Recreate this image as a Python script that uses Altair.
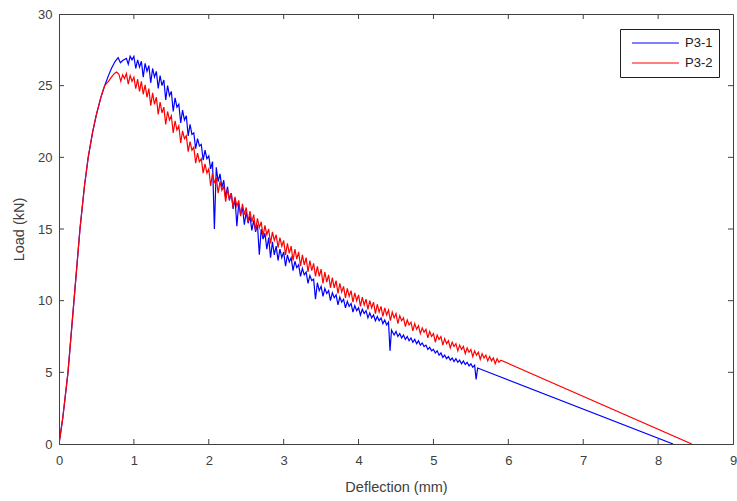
import altair as alt
import pandas as pd

# ---------------- data ----------------
blue_rise_x = [0, 0.05, 0.12, 0.20, 0.28, 0.34, 0.39, 0.45, 0.50, 0.56, 0.61, 0.66, 0.70, 0.75, 0.79, 0.82, 0.85]
blue_rise_y = [0, 1.8, 5.0, 10.0, 15.0, 18.0, 20.0, 21.8, 23.0, 24.2, 25.0, 25.7, 26.2, 26.7, 26.95, 26.6, 26.75]

blue_top_x = [0.90, 0.95, 1.00, 1.05, 1.10, 1.15, 1.20, 1.25, 1.30, 1.35, 1.40, 1.45, 1.50, 1.55, 1.60, 1.65,
              1.70, 1.75, 1.80, 1.85, 1.90, 1.95, 2.00, 2.05, 2.10, 2.15, 2.20, 2.25, 2.30, 2.35, 2.40, 2.45,
              2.50, 2.55, 2.60, 2.65, 2.70, 2.75, 2.80, 2.85, 2.90, 2.95, 3.00, 3.05, 3.10, 3.15, 3.20, 3.25,
              3.30, 3.35, 3.40, 3.45, 3.50, 3.55, 3.60, 3.65, 3.70, 3.75, 3.80, 3.85, 3.90, 3.95, 4.00, 4.05,
              4.10, 4.15, 4.20, 4.25, 4.30, 4.35, 4.40,
              4.50, 4.55, 4.60, 4.65, 4.70, 4.75, 4.80, 4.85, 4.90, 4.95, 5.00, 5.05, 5.10, 5.15, 5.20, 5.25,
              5.30, 5.35, 5.40, 5.45, 5.50, 5.55]
blue_top_y = [26.9, 27.05, 27.05, 26.8, 26.7, 26.55, 26.4, 26.2, 26.0, 25.7, 25.4, 25.0, 24.6, 24.15, 23.7, 23.3,
              22.9, 22.3, 21.7, 21.3, 20.9, 20.5, 20.1, 19.7, 19.3, 18.85, 18.4, 17.95, 17.5, 17.15, 16.8, 16.5,
              16.2, 15.9, 15.6, 15.3, 15.0, 14.7, 14.4, 14.1, 13.8, 13.6, 13.4, 13.2, 13.0, 12.75, 12.5, 12.25,
              12.0, 11.75, 11.5, 11.25, 11.0, 10.85, 10.7, 10.55, 10.4, 10.25, 10.1, 9.95, 9.8, 9.65, 9.5, 9.4,
              9.3, 9.15, 9.0, 8.9, 8.8, 8.65, 8.5,
              7.85, 7.7, 7.6, 7.5, 7.4, 7.3, 7.2, 7.05, 6.9, 6.75, 6.6, 6.5, 6.35, 6.2, 6.1, 6.0,
              5.95, 5.85, 5.8, 5.7, 5.6, 5.5]

blue_dip_x = [0.925, 0.975, 1.025, 1.075, 1.125, 1.175, 1.225, 1.275, 1.325, 1.375, 1.425, 1.475, 1.525, 1.575,
              1.625, 1.675, 1.725, 1.775, 1.825, 1.875, 1.925, 1.975, 2.025, 2.075, 2.125, 2.175, 2.225, 2.275,
              2.325, 2.375, 2.425, 2.475, 2.525, 2.575, 2.625, 2.675, 2.725, 2.775, 2.825, 2.875, 2.925, 2.975,
              3.025, 3.075, 3.125, 3.175, 3.225, 3.275, 3.325, 3.375, 3.425, 3.475, 3.525, 3.575, 3.625, 3.675,
              3.725, 3.775, 3.825, 3.875, 3.925, 3.975, 4.025, 4.075, 4.125, 4.175, 4.225, 4.275, 4.325, 4.375,
              4.475, 4.525, 4.575, 4.625, 4.675, 4.725, 4.775, 4.825, 4.875, 4.925, 4.975, 5.025, 5.075, 5.125,
              5.175, 5.225, 5.275, 5.325, 5.375, 5.425, 5.475, 5.525]
blue_dip_y = [26.5, 26.8, 26.2, 26.3, 25.6, 26.0, 25.2, 25.6, 24.8, 25.0, 24.0, 24.3, 23.2, 23.5,
              22.4, 22.6, 21.5, 21.6, 20.6, 20.8, 19.8, 19.9, 19.2, 15.0, 18.3, 17.9, 17.2, 17.0,
              16.4, 15.2, 16.0, 15.3, 15.4, 14.9, 14.8, 13.2, 14.3, 13.6, 13.0, 13.2, 12.8, 13.0,
              12.4, 12.7, 12.1, 12.3, 11.7, 11.8, 11.2, 11.4, 10.1, 10.7, 10.3, 10.5, 10.0, 10.2,
              9.7, 9.9, 9.5, 9.6, 9.2, 9.3, 9.0, 9.1, 8.8, 8.8, 8.6, 8.6, 8.4, 8.3,
              7.6, 7.5, 7.4, 7.3, 7.2, 7.1, 7.0, 6.9, 6.8, 6.6, 6.5, 6.35, 6.2, 6.05,
              5.95, 5.85, 5.75, 5.7, 5.6, 5.55, 5.45, 5.35]

blue_event_x = [4.42, 4.44, 5.57, 5.59, 8.20]
blue_event_y = [6.5, 7.95, 4.5, 5.3, 0.0]

red_rise_x = [0, 0.05, 0.12, 0.20, 0.28, 0.34, 0.39, 0.45, 0.50, 0.56, 0.61, 0.66, 0.70, 0.74, 0.77]
red_rise_y = [0, 1.8, 5.0, 10.0, 15.0, 18.0, 20.0, 21.8, 23.0, 24.2, 25.0, 25.3, 25.6, 25.85, 25.95]

red_top_x = [0.80, 0.85, 0.90, 0.95, 1.00, 1.05, 1.10, 1.15, 1.20, 1.25, 1.30, 1.35, 1.40, 1.45, 1.50, 1.55,
             1.60, 1.65, 1.70, 1.75, 1.80, 1.85, 1.90, 1.95, 2.00, 2.05, 2.10, 2.15, 2.20, 2.25, 2.30, 2.35,
             2.40, 2.45, 2.50, 2.55, 2.60, 2.65, 2.70, 2.75, 2.80, 2.85, 2.90, 2.95, 3.00, 3.05, 3.10, 3.15,
             3.20, 3.25, 3.30, 3.35, 3.40, 3.45, 3.50, 3.55, 3.60, 3.65, 3.70, 3.75, 3.80, 3.85, 3.90, 3.95,
             4.00, 4.05, 4.10, 4.15, 4.20, 4.25, 4.30, 4.35, 4.40, 4.45, 4.50, 4.55, 4.60, 4.65, 4.70, 4.75,
             4.80, 4.85, 4.90, 4.95, 5.00, 5.05, 5.10, 5.15, 5.20, 5.25, 5.30, 5.35, 5.40, 5.45, 5.50, 5.55,
             5.60, 5.65, 5.70, 5.75, 5.80, 5.85, 5.90]
red_top_y = [25.8, 25.75, 25.85, 25.7, 25.6, 25.45, 25.3, 25.05, 24.8, 24.5, 24.2, 23.85, 23.5, 23.2, 22.9, 22.55,
             22.2, 21.85, 21.5, 21.1, 20.7, 20.3, 19.9, 19.55, 19.2, 18.9, 18.6, 18.3, 18.0, 17.75, 17.5, 17.25,
             17.0, 16.75, 16.5, 16.25, 16.0, 15.75, 15.5, 15.25, 15.0, 14.8, 14.6, 14.4, 14.2, 14.0, 13.8, 13.6,
             13.4, 13.2, 13.0, 12.8, 12.6, 12.4, 12.2, 12.0, 11.8, 11.6, 11.4, 11.2, 11.0, 10.85, 10.7, 10.55,
             10.4, 10.25, 10.1, 10.0, 9.9, 9.75, 9.6, 9.5, 9.35, 9.2, 9.1, 8.95, 8.8, 8.65, 8.5, 8.4,
             8.25, 8.1, 8.0, 7.85, 7.7, 7.6, 7.5, 7.35, 7.2, 7.1, 7.0, 6.9, 6.8, 6.7, 6.6, 6.5,
             6.4, 6.3, 6.2, 6.1, 6.0, 5.95, 5.85]

red_dip_x = [0.825, 0.875, 0.925, 0.975, 1.025, 1.075, 1.125, 1.175, 1.225, 1.275, 1.325, 1.375, 1.425, 1.475,
             1.525, 1.575, 1.625, 1.675, 1.725, 1.775, 1.825, 1.875, 1.925, 1.975, 2.025, 2.075, 2.125, 2.175,
             2.225, 2.275, 2.325, 2.375, 2.425, 2.475, 2.525, 2.575, 2.625, 2.675, 2.725, 2.775, 2.825, 2.875,
             2.925, 2.975, 3.025, 3.075, 3.125, 3.175, 3.225, 3.275, 3.325, 3.375, 3.425, 3.475, 3.525, 3.575,
             3.625, 3.675, 3.725, 3.775, 3.825, 3.875, 3.925, 3.975, 4.025, 4.075, 4.125, 4.175, 4.225, 4.275,
             4.325, 4.375, 4.425, 4.475, 4.525, 4.575, 4.625, 4.675, 4.725, 4.775, 4.825, 4.875, 4.925, 4.975,
             5.025, 5.075, 5.125, 5.175, 5.225, 5.275, 5.325, 5.375, 5.425, 5.475, 5.525, 5.575, 5.625, 5.675,
             5.725, 5.775, 5.825, 5.875]
red_dip_y = [25.3, 25.5, 25.1, 25.3, 24.8, 24.6, 24.4, 24.2, 23.6, 23.7, 23.0, 23.1, 22.3, 22.6,
             21.7, 21.9, 21.0, 21.3, 20.4, 20.5, 19.6, 19.7, 18.9, 18.9, 18.0, 18.2, 17.5, 17.7,
             16.9, 17.1, 16.5, 16.6, 15.9, 16.0, 15.5, 15.5, 14.9, 15.1, 14.5, 14.6, 14.0, 14.2,
             13.7, 13.8, 13.2, 13.3, 12.8, 12.9, 12.4, 12.5, 12.0, 12.1, 11.7, 11.7, 11.2, 11.3,
             10.9, 10.9, 10.5, 10.6, 10.2, 10.3, 9.9, 10.0, 9.6, 9.7, 9.4, 9.5, 9.1, 9.2,
             8.9, 9.0, 8.6, 8.8, 8.4, 8.6, 8.2, 8.3, 7.9, 8.0, 7.7, 7.8, 7.4, 7.5,
             7.1, 7.3, 6.9, 7.0, 6.7, 6.8, 6.5, 6.6, 6.3, 6.4, 6.1, 6.2, 5.9, 6.0,
             5.8, 5.8, 5.6, 5.7]

red_event_x = [8.45]
red_event_y = [0.0]

x_ticks = [0, 1, 2, 3, 4, 5, 6, 7, 8, 9]
y_ticks = [0, 5, 10, 15, 20, 25, 30]
series_names = ["P3-1", "P3-2"]
series_colors = ["#0000ff", "#ff0000"]

# ---------------- build tables ----------------
blue = pd.DataFrame({
    "x": blue_rise_x + blue_top_x + blue_dip_x + blue_event_x,
    "y": blue_rise_y + blue_top_y + blue_dip_y + blue_event_y,
}).sort_values("x").reset_index(drop=True)
blue["series"] = series_names[0]
blue["i"] = range(len(blue))

red = pd.DataFrame({
    "x": red_rise_x + red_top_x + red_dip_x + red_event_x,
    "y": red_rise_y + red_top_y + red_dip_y + red_event_y,
}).sort_values("x").reset_index(drop=True)
red["series"] = series_names[1]
red["i"] = range(len(red))

W, H = 674, 430
FONT = "Liberation Sans"
AX = "#404040"

xscale = alt.Scale(domain=[0, 9], nice=False, zero=False)
yscale = alt.Scale(domain=[0, 30], nice=False, zero=False)
cscale = alt.Scale(domain=series_names, range=series_colors)

legend = alt.Legend(
    title=None, orient="none", legendX=561, legendY=15,
    symbolType="stroke", symbolSize=2200, symbolStrokeWidth=1.2, clipHeight=16,
    labelFont=FONT, labelFontSize=13, labelColor="#202020",
    strokeColor="#202020", fillColor="white", padding=6, rowPadding=4,
    labelOffset=5, symbolOffset=5,
)

x_axis = alt.Axis(values=x_ticks, ticks=False, grid=False, labelFont=FONT, labelFontSize=13,
                  labelColor=AX, labelPadding=10, title="Deflection (mm)", titleFont=FONT,
                  titleFontSize=14.5, titleFontWeight="normal", titleColor=AX, titlePadding=13,
                  domainColor=AX, format="d", labelFlush=False)
y_axis = alt.Axis(values=y_ticks, ticks=False, grid=False, labelFont=FONT, labelFontSize=13,
                  labelColor=AX, labelPadding=7, title="Load (kN)", titleFont=FONT,
                  titleFontSize=14.5, titleFontWeight="normal", titleColor=AX, titlePadding=11,
                  domainColor=AX, format="d", labelFlush=False)

blue_line = alt.Chart(blue).mark_line(strokeWidth=1.2, clip=True).encode(
    x=alt.X("x:Q", scale=xscale, axis=x_axis),
    y=alt.Y("y:Q", scale=yscale, axis=y_axis),
    color=alt.Color("series:N", scale=cscale, legend=legend),
    order="i:Q",
)
red_line = alt.Chart(red).mark_line(strokeWidth=1.2, clip=True).encode(
    x=alt.X("x:Q", scale=xscale),
    y=alt.Y("y:Q", scale=yscale),
    color=alt.Color("series:N", scale=cscale, legend=legend),
    order="i:Q",
)

xt = pd.DataFrame({"t": x_ticks[1:-1]})
yt = pd.DataFrame({"t": y_ticks[1:-1]})
tick_style = dict(color=AX, strokeWidth=1)
bottom_ticks = alt.Chart(xt).mark_rule(**tick_style).encode(
    x=alt.X("t:Q", scale=xscale), y=alt.value(H), y2=alt.value(H - 5))
top_ticks = alt.Chart(xt).mark_rule(**tick_style).encode(
    x=alt.X("t:Q", scale=xscale), y=alt.value(0), y2=alt.value(5))
left_ticks = alt.Chart(yt).mark_rule(**tick_style).encode(
    y=alt.Y("t:Q", scale=yscale), x=alt.value(0), x2=alt.value(5))
right_ticks = alt.Chart(yt).mark_rule(**tick_style).encode(
    y=alt.Y("t:Q", scale=yscale), x=alt.value(W), x2=alt.value(W - 5))

chart = alt.layer(blue_line, red_line, bottom_ticks, top_ticks, left_ticks, right_ticks).properties(
    width=W, height=H,
    autosize=alt.AutoSizeParams(type="none"),
    padding={"left": 59, "top": 14, "right": 4, "bottom": 57},
    background="white",
).configure_view(stroke=AX, strokeWidth=1)

chart.save("out.html", embed_options={"renderer": "svg", "actions": False})
